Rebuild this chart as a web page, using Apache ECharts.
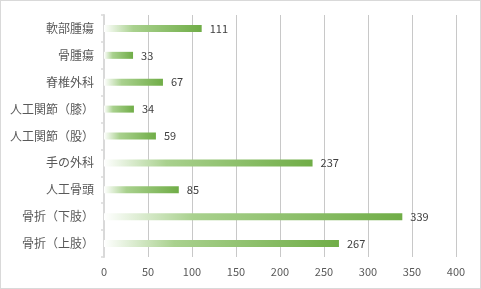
<!DOCTYPE html>
<html><head><meta charset="utf-8">
<script src="https://cdn.jsdelivr.net/npm/echarts@6/dist/echarts.min.js"></script>
<style>html,body{margin:0;padding:0;background:#fff}#c{width:481px;height:289px;box-sizing:border-box;border:1px solid #d9d9d9}</style>
</head><body><div id="c"></div>
<script>
const categories = ['骨折（上肢）','骨折（下肢）','人工骨頭','手の外科','人工関節（股）','人工関節（膝）','脊椎外科','骨腫瘍','軟部腫瘍'];
const values = [267,339,85,237,59,34,67,33,111];
const chart = echarts.init(document.getElementById('c'));
const font = '"Noto Sans CJK JP", "Noto Sans", sans-serif';
chart.setOption({
  animation:false,
  grid:{left:103,right:24,top:14,bottom:31,containLabel:false},
  xAxis:{type:'value',min:0,max:400,interval:50,
    axisLine:{show:false},axisTick:{show:false},
    axisLabel:{color:'#595959',fontSize:11,fontFamily:font,margin:9},
    splitLine:{lineStyle:{color:'#c8c8c8',width:1}}},
  yAxis:{type:'category',data:categories,
    axisLine:{lineStyle:{color:'#d9d9d9',width:2}},
    axisTick:{show:true,length:3,lineStyle:{color:'#d9d9d9',width:1.5}},
    axisLabel:{color:'#595959',fontSize:12,fontFamily:font,margin:10}},
  series:[{type:'bar',data:values,barWidth:7,
    itemStyle:{color:new echarts.graphic.LinearGradient(0,0,1,0,[
      {offset:0,color:'#ffffff'},{offset:0.3,color:'#a9d18e'},{offset:1,color:'#70ad47'}])},
    label:{show:true,position:'right',distance:8,color:'#404040',fontSize:11,fontFamily:font}}]
});
</script></body></html>
